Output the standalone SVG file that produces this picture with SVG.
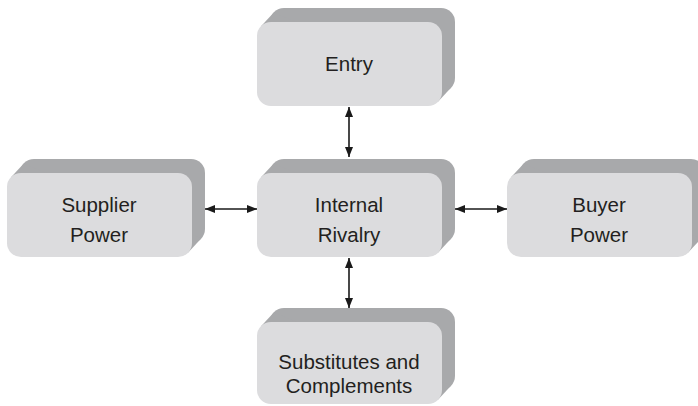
<svg xmlns="http://www.w3.org/2000/svg" xmlns:xlink="http://www.w3.org/1999/xlink" width="698" height="406" viewBox="0 0 698 406">
  <style>
    .side { fill: #a8a9ab; }
    .face { fill: #dcdcde; }
    .label { font-family: "Liberation Sans", Arial, sans-serif; font-size: 20.5px; fill: #231f20; text-anchor: middle; }
    .link { stroke: #1a1a1a; stroke-width: 1.6; fill: none; marker-start: url(#tip); marker-end: url(#tip); }
  </style>
  <defs>
    <marker id="tip" viewBox="0 0 10 8" refX="10" refY="4" markerWidth="10" markerHeight="8" markerUnits="userSpaceOnUse" orient="auto-start-reverse">
      <path d="M0,0 L10,4 L0,8 Z" fill="#1a1a1a"/>
    </marker>
    <!-- extruded block, face 185 x 84 -->
    <g id="block">
      <rect class="side" x="13" y="-14" width="185" height="84" rx="14"/>
      <polygon class="side" points="3.8,4.5 16.8,-9.5 194.2,65.5 181.2,79.5"/>
      <rect class="face" x="0" y="0" width="185" height="84" rx="14"/>
    </g>
    <!-- extruded block, face 185 x 82 -->
    <g id="block-short">
      <rect class="side" x="13" y="-14" width="185" height="82" rx="14"/>
      <polygon class="side" points="3.8,4.5 16.8,-9.5 194.2,63.5 181.2,77.5"/>
      <rect class="face" x="0" y="0" width="185" height="82" rx="14"/>
    </g>
  </defs>

  <g id="connectors">
    <line class="link" x1="349" y1="107" x2="349" y2="157"/>
    <line class="link" x1="349" y1="258" x2="349" y2="308"/>
    <line class="link" x1="205" y1="209" x2="257" y2="209"/>
    <line class="link" x1="455" y1="209" x2="507" y2="209"/>
  </g>

  <g id="entry">
    <use xlink:href="#block" x="257" y="22"/>
    <text class="label" x="349" y="71">Entry</text>
  </g>

  <g id="supplier-power">
    <use xlink:href="#block" x="7" y="173"/>
    <text class="label" x="99" y="212">Supplier</text>
    <text class="label" x="99" y="242">Power</text>
  </g>

  <g id="internal-rivalry">
    <use xlink:href="#block" x="257" y="173"/>
    <text class="label" x="349" y="212">Internal</text>
    <text class="label" x="349" y="242">Rivalry</text>
  </g>

  <g id="buyer-power">
    <use xlink:href="#block" x="507" y="173"/>
    <text class="label" x="599" y="212">Buyer</text>
    <text class="label" x="599" y="242">Power</text>
  </g>

  <g id="substitutes-complements">
    <use xlink:href="#block-short" x="257" y="322"/>
    <text class="label" x="349" y="369">Substitutes and</text>
    <text class="label" x="349" y="393">Complements</text>
  </g>
</svg>
